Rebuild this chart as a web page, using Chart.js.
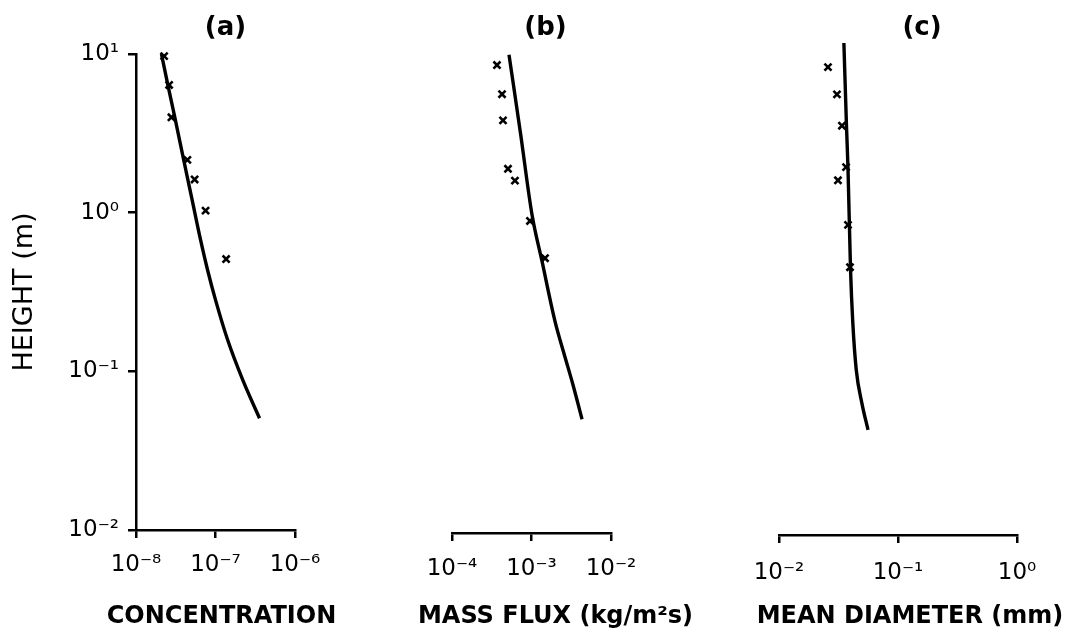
<!DOCTYPE html>
<html>
<head>
<meta charset="utf-8">
<script src="https://cdn.jsdelivr.net/npm/chart.js@4.4.0/dist/chart.umd.min.js"></script>
<style>
  html, body { margin: 0; background: #fff; }
  #wrap { position: relative; width: 1072px; height: 639px; }
  #wrap canvas { position: absolute; left: 0; top: 0; }
</style>
</head>
<body>
<div id="wrap">
  <canvas id="chartA" width="1072" height="639"></canvas>
  <canvas id="chartB" width="1072" height="639"></canvas>
  <canvas id="chartC" width="1072" height="639"></canvas>
</div>
<script>
// Height axis (shared by the three panels, drawn only on (a))
const heightTicks = [0.01, 0.1, 1, 10];
const heightLabels = ['10⁻²', '10⁻¹', '10⁰', '10¹'];

// (a) concentration
const concTicks = [1e-8, 1e-7, 1e-6];
const concLabels = ['10⁻⁸', '10⁻⁷', '10⁻⁶'];
const concModelX = [2.09e-8, 2.55e-8, 3.07e-8, 3.98e-8, 5.09e-8, 6.49e-8, 7.95e-8, 1.0e-7, 1.42e-7, 2.2e-7, 3.58e-7];
const concModelH = [10, 6.19, 4.01, 2.15, 1.2, 0.673, 0.435, 0.282, 0.158, 0.0883, 0.0506];
const concObsX = [2.26e-8, 2.61e-8, 2.79e-8, 4.43e-8, 5.46e-8, 7.5e-8, 1.36e-7];
const concObsH = [9.7, 6.38, 3.99, 2.15, 1.62, 1.03, 0.51];

// (b) mass flux
const fluxTicks = [1e-4, 1e-3, 1e-2];
const fluxLabels = ['10⁻⁴', '10⁻³', '10⁻²'];
const fluxModelX = [5.21e-4, 7.28e-4, 1.01e-3, 1.36e-3, 1.98e-3, 2.53e-3, 3.33e-3, 4.32e-3];
const fluxModelH = [9.9, 3.18, 1.0, 0.5, 0.211, 0.136, 0.0846, 0.0516];
const fluxObsX = [3.68e-4, 4.26e-4, 4.38e-4, 5.06e-4, 6.19e-4, 9.57e-4, 1.48e-3];
const fluxObsH = [8.53, 5.6, 3.84, 1.91, 1.61, 0.9, 0.526];

// (c) mean diameter
const diamTicks = [1e-2, 1e-1, 1];
const diamLabels = ['10⁻²', '10⁻¹', '10⁰'];
const diamModelX = [0.0351, 0.0369, 0.038, 0.0399, 0.0417, 0.0446, 0.0498, 0.056];
const diamModelH = [11.7, 3.57, 1.94, 0.455, 0.211, 0.107, 0.066, 0.0453];
const diamObsX = [0.0285, 0.0258, 0.0307, 0.0338, 0.0366, 0.0313, 0.038, 0.0395];
const diamObsH = [11.7, 8.28, 5.6, 3.57, 1.97, 1.63, 0.86, 0.468];

const INK = '#000';
const FONT = '"DejaVu Sans", sans-serif';
const W = 1072, H = 639;

function pts(xs, ys) { return xs.map((x, i) => ({ x, y: ys[i] })); }

function fixedTicks(values) {
  return (scale) => { scale.ticks = values.map((value) => ({ value })); };
}

// panel letter on top + x-axis title, placed relative to the chart area
const panelText = {
  id: 'panelText',
  afterDraw(chart, args, opts) {
    const { ctx, chartArea } = chart;
    const cx = (chartArea.left + chartArea.right) / 2;
    ctx.save();
    ctx.fillStyle = INK;
    ctx.textAlign = 'center';
    ctx.textBaseline = 'middle';
    ctx.font = 'bold 26px ' + FONT;
    ctx.fillText(opts.label, cx + opts.labelDx, 28);
    ctx.font = 'bold 24px ' + FONT;
    ctx.fillText(opts.xTitle, cx + opts.titleDx, 617);
    ctx.restore();
  },
};

function axisStyle() {
  return {
    border: { color: INK, width: 2.5 },
    grid: { drawOnChartArea: false, color: INK, lineWidth: 2.5, tickLength: 8 },
  };
}

function renderPanel(id, o) {
  const box = o.box;
  return new Chart(document.getElementById(id), {
    type: 'scatter',
    data: {
      datasets: [
        {
          data: pts(o.modelX, o.modelH),
          showLine: true, pointRadius: 0, borderColor: INK, borderWidth: 3.4,
          cubicInterpolationMode: 'monotone', clip: false,
        },
        {
          data: pts(o.obsX, o.obsH),
          showLine: false, pointStyle: 'crossRot', pointRadius: 5,
          borderColor: INK, borderWidth: 2.6, clip: false,
        },
      ],
    },
    plugins: [panelText],
    options: {
      responsive: false, animation: false, events: [],
      layout: { padding: { left: o.showY ? 0 : box.left, right: W - box.right, top: box.top, bottom: 0 } },
      plugins: {
        legend: { display: false }, tooltip: { enabled: false },
        panelText: { label: o.label, labelDx: o.labelDx, xTitle: o.xTitle, titleDx: o.titleDx },
      },
      scales: {
        x: {
          type: 'logarithmic', min: o.xTicks[0], max: o.xTicks[o.xTicks.length - 1],
          afterBuildTicks: fixedTicks(o.xTicks),
          afterFit: (s) => { s.height = H - box.bottom; s.paddingLeft = 0; s.paddingRight = 0; },
          ...axisStyle(),
          ticks: {
            color: INK, padding: o.tickPad, autoSkip: false, maxRotation: 0,
            font: { family: FONT, size: 23 },
            callback: (v, i) => o.xLabels[i],
          },
        },
        y: {
          type: 'logarithmic', min: 0.01, max: 10, display: o.showY,
          afterBuildTicks: fixedTicks(heightTicks),
          afterFit: (s) => { s.width = o.showY ? box.left : 0; s.paddingTop = 0; s.paddingBottom = 0; },
          ...axisStyle(),
          ticks: {
            color: INK, padding: 9,
            font: { family: FONT, size: 23 },
            callback: (v, i) => heightLabels[i],
          },
          title: {
            display: o.showY, text: 'HEIGHT (m)', color: INK,
            font: { family: FONT, size: 27 }, padding: { top: 9, bottom: 0 },
          },
        },
      },
    },
  });
}

renderPanel('chartA', {
  box: { left: 136, right: 295, top: 54, bottom: 530 }, showY: true, tickPad: 13,
  xTicks: concTicks, xLabels: concLabels,
  modelX: concModelX, modelH: concModelH, obsX: concObsX, obsH: concObsH,
  label: '(a)', labelDx: 10, xTitle: 'CONCENTRATION', titleDx: 6,
});

renderPanel('chartB', {
  box: { left: 452, right: 611, top: 54, bottom: 533 }, showY: false, tickPad: 14,
  xTicks: fluxTicks, xLabels: fluxLabels,
  modelX: fluxModelX, modelH: fluxModelH, obsX: fluxObsX, obsH: fluxObsH,
  label: '(b)', labelDx: 14, xTitle: 'MASS FLUX (kg/m²s)', titleDx: 24,
});

renderPanel('chartC', {
  box: { left: 779, right: 1017, top: 54, bottom: 535 }, showY: false, tickPad: 16,
  xTicks: diamTicks, xLabels: diamLabels,
  modelX: diamModelX, modelH: diamModelH, obsX: diamObsX, obsH: diamObsH,
  label: '(c)', labelDx: 24, xTitle: 'MEAN DIAMETER (mm)', titleDx: 12,
});
</script>
</body>
</html>
